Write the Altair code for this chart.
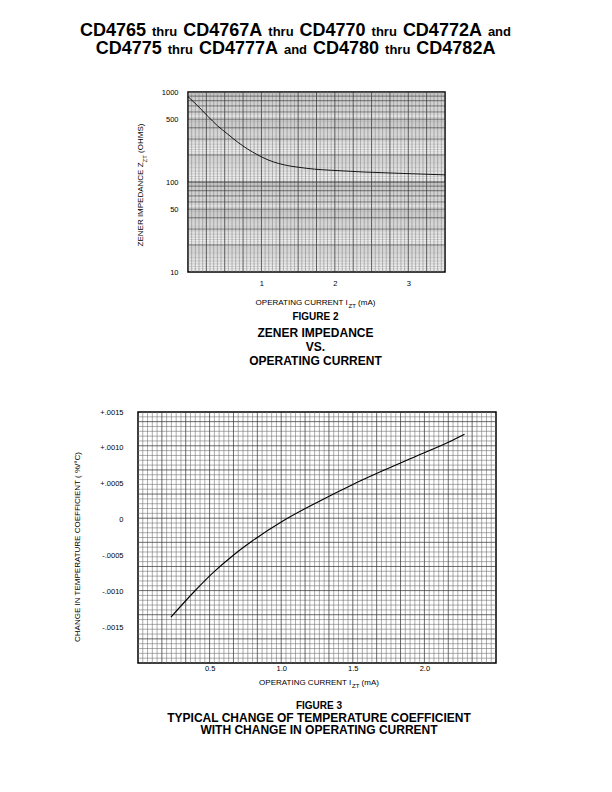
import altair as alt
import pandas as pd

FONT = "Liberation Sans"

# ---------------- data ----------------
fig2_current_ma = [0.0, 0.13, 0.27, 0.40, 0.54, 0.68, 0.81, 0.95, 1.09, 1.23, 1.36, 1.50, 1.72, 1.95, 2.41, 2.86, 3.50]
fig2_impedance_ohm = [890, 705, 537, 423, 341, 276, 233, 200, 176, 161, 152, 146, 139, 135, 129, 125, 120]
fig2_x_ticks = [1, 2, 3]
fig2_y_ticks = [10, 50, 100, 500, 1000]

fig3_current_ma = [0.23, 0.39, 0.53, 0.67, 0.79, 1.02, 1.26, 1.49, 1.72, 1.95, 2.19, 2.28]
fig3_tc_change = [-0.00136, -0.00101, -0.00073, -0.00049, -0.00031, -0.00001, 0.00025, 0.00048,
                  0.00069, 0.00089, 0.00110, 0.00119]
fig3_x_ticks = [0.5, 1.0, 1.5, 2.0]
fig3_y_ticks = [-0.0015, -0.0010, -0.0005, 0.0, 0.0005, 0.0010, 0.0015]

header_line1 = ["CD4765", "thru", "CD4767A", "thru", "CD4770", "thru", "CD4772A", "and"]
header_line2 = ["CD4775", "thru", "CD4777A", "and", "CD4780", "thru", "CD4782A"]
fig2_y_title = ["ZENER IMPEDANCE Z", "ZT", "(OHMS)"]
x_title_parts = ["OPERATING CURRENT I", "ZT", "(mA)"]
fig2_caption = ["FIGURE 2", "ZENER IMPEDANCE", "VS.", "OPERATING CURRENT"]
fig3_caption = ["FIGURE 3", "TYPICAL CHANGE OF TEMPERATURE COEFFICIENT", "WITH CHANGE IN OPERATING CURRENT"]
fig3_y_title = "CHANGE IN TEMPERATURE COEFFICIENT ( %/\u00b0C)"

# ---------------- font metrics (Helvetica/Arial) ----------------
REG_W = {' ': 278, '(': 333, ')': 333, '%': 889, '/': 278, '\u00b0': 400, '.': 278, '+': 584, '-': 333}
BOLD_W = {' ': 278, '(': 333, ')': 333, '.': 278}
for c in "0123456789":
    REG_W[c] = 556
    BOLD_W[c] = 556
REG_W.update(dict(A=667, B=667, C=722, D=722, E=667, F=611, G=778, H=722, I=278, J=500, K=667, L=556,
                  M=833, N=722, O=778, P=667, Q=778, R=722, S=667, T=611, U=722, V=667, W=944, X=667,
                  Y=667, Z=611, a=556, m=833, n=556, d=556, h=556, r=333, t=278, u=556))
BOLD_W.update(dict(A=722, B=722, C=722, D=722, E=667, F=611, G=778, H=722, I=278, L=611, M=833, N=722,
                   O=778, P=667, R=722, S=667, T=611, U=722, V=667, W=944, Y=667, Z=611,
                   a=556, d=611, h=611, n=611, r=389, t=333, u=611))


def tw(s, size, bold=False):
    t = BOLD_W if bold else REG_W
    return sum(t.get(c, 600) for c in s) * size / 1000.0


one = pd.DataFrame({"k": [0]})
NOVIEW = alt.ViewBackground(stroke="transparent")


def txt(s, x, y, size, bold=False, align="left", baseline="middle", angle=0):
    kw = dict(align=align, baseline=baseline, fontSize=size, font=FONT, color="black")
    if bold:
        kw["fontWeight"] = "bold"
    if angle:
        kw["angle"] = angle
    return alt.Chart(one).mark_text(**kw).encode(
        x=alt.value(x), y=alt.value(y), text=alt.value(s))


def header_row(words, cx, y):
    sizes = [18 if w.startswith("CD") else 13 for w in words]
    widths = [tw(w, s, True) for w, s in zip(words, sizes)]
    gap = 6
    total = sum(widths) + gap * (len(words) - 1)
    x = cx - total / 2.0
    out = []
    for w, s, wd in zip(words, sizes, widths):
        out.append(txt(w, x, y, s, bold=True, baseline="alphabetic"))
        x += wd + gap
    return out


def x_title(cx, y):
    main, sub, rest = x_title_parts
    sp = tw(" ", 8)
    w1, w2, w3 = tw(main, 8), tw(sub, 6), tw(rest, 8)
    x0 = cx - (w1 + w2 + sp + w3) / 2.0
    return [txt(main, x0, y, 8), txt(sub, x0 + w1, y + 2.5, 6), txt(rest, x0 + w1 + w2 + sp, y, 8)]


def y_title_sub(cx, cy):
    main, sub, rest = fig2_y_title
    sp = tw(" ", 8)
    w1, w2, w3 = tw(main, 8), tw(sub, 6), tw(rest, 8)
    y0 = cy + (w1 + w2 + sp + w3) / 2.0
    return [txt(main, cx, y0, 8, angle=270),
            txt(sub, cx + 3.5, y0 - w1, 6, angle=270),
            txt(rest, cx, y0 - w1 - w2 - sp, 8, angle=270)]


def rules(vals, ch, scale, axis, color, width):
    df = pd.DataFrame({"v": vals})
    if ch == "x":
        enc = dict(x=alt.X("v:Q", scale=scale, axis=axis))
    else:
        enc = dict(y=alt.Y("v:Q", scale=scale, axis=axis))
    return alt.Chart(df).mark_rule(color=color, strokeWidth=width).encode(**enc)


# ---------------- header ----------------
HEADER_CX = 157.5
header = alt.layer(*(header_row(header_line1, HEADER_CX, 17) + header_row(header_line2, HEADER_CX, 35))).properties(
    width=358, height=40, view=NOVIEW)

# ---------------- figure 2 ----------------
W2, H2 = 257, 180
xs2 = alt.Scale(domain=[0, 3.5], nice=False, zero=False)
ys2 = alt.Scale(type="log", domain=[10, 1000], nice=False)
xa2 = alt.Axis(values=fig2_x_ticks, format="d", title=None, labelPadding=7)
ya2 = alt.Axis(values=fig2_y_ticks, format="d", title=None, labelPadding=10)

v_fine2 = [round(i * 0.05, 4) for i in range(1, 70) if i % 5 != 0]
v_med2 = [round(i * 0.25, 4) for i in range(1, 14)]
ks = ([1 + 0.05 * i for i in range(1, 20)] + [2 + 0.1 * i for i in range(1, 30)] +
      [5 + 0.2 * i for i in range(1, 25)])
ks = [round(k, 3) for k in ks if abs(k - round(k)) > 1e-6]
h_fine2 = [d * k for d in (10, 100) for k in ks]
h_med2 = [d * k for d in (10, 100) for k in range(2, 10)]

line2 = alt.Chart(pd.DataFrame({"current": fig2_current_ma, "z": fig2_impedance_ohm})).mark_line(
    color="black", strokeWidth=0.9, interpolate="monotone").encode(
    x=alt.X("current:Q", scale=xs2, axis=xa2),
    y=alt.Y("z:Q", scale=ys2, axis=ya2),
)

cx2 = W2 / 2.0 - 1
fig2_layers = [
    rules(v_fine2, "x", xs2, xa2, "#7a7a7a", 0.5),
    rules(h_fine2, "y", ys2, ya2, "#7e7e7e", 0.4),
    rules(h_med2, "y", ys2, ya2, "#3c3c3c", 0.8),
    rules([100], "y", ys2, ya2, "#222222", 1.0),
    rules(v_med2, "x", xs2, xa2, "#3c3c3c", 0.8),
    line2,
] + x_title(cx2, 211) + [
    txt(fig2_caption[0], cx2, 225, 10, bold=True, align="center"),
    txt(fig2_caption[1], cx2, 241, 12, bold=True, align="center"),
    txt(fig2_caption[2], cx2, 255, 12, bold=True, align="center"),
    txt(fig2_caption[3], cx2, 269, 12, bold=True, align="center"),
]
fig2 = alt.layer(*fig2_layers).properties(
    width=W2, height=H2, view=alt.ViewBackground(stroke="black", strokeWidth=1.5))

# y-axis title of figure 2 (with subscript) lives in a narrow panel at its left
fig2_ytitle = alt.layer(*y_title_sub(3, 93)).properties(width=10, height=H2, view=NOVIEW)
fig2_row = alt.hconcat(fig2_ytitle, fig2, spacing=11)

# ---------------- figure 3 ----------------
W3, H3 = 358, 251
xs3 = alt.Scale(domain=[0, 2.5], nice=False, zero=False)
ys3 = alt.Scale(domain=[-0.002, 0.0015], nice=False, zero=False)
label3 = ("datum.value == 0 ? '0' : (datum.value > 0 ? '+' : '-') + '.' + "
          "format(round(abs(datum.value) * 10000), '04d')")
xa3 = alt.Axis(values=fig3_x_ticks, format=".1f", title=None, labelPadding=1)
ya3 = alt.Axis(values=fig3_y_ticks, labelExpr=label3, title=None, labelPadding=15)

v3_all = [i / 30.0 for i in range(1, 75)]
v_fine3 = [v for i, v in enumerate(v3_all, start=1) if i % 5 != 0]
v_med3 = [v for i, v in enumerate(v3_all, start=1) if i % 5 == 0]
ystep = 0.0035 / 52
h3_all = [-0.002 + j * ystep for j in range(1, 52)]
h_fine3 = [v for j, v in enumerate(h3_all, start=1) if j % 5 != 0]
h_med3 = [v for j, v in enumerate(h3_all, start=1) if j % 5 == 0]

line3 = alt.Chart(pd.DataFrame({"current": fig3_current_ma, "tc": fig3_tc_change})).mark_line(
    color="black", strokeWidth=1.1, interpolate="monotone").encode(
    x=alt.X("current:Q", scale=xs3, axis=xa3),
    y=alt.Y("tc:Q", scale=ys3, axis=ya3),
)

cx3 = W3 / 2.0 + 2
fig3_layers = [
    rules(v_fine3, "x", xs3, xa3, "#686868", 0.55),
    rules(h_fine3, "y", ys3, ya3, "#686868", 0.55),
    rules(v_med3, "x", xs3, xa3, "#3a3a3a", 0.75),
    rules(h_med3, "y", ys3, ya3, "#3a3a3a", 0.75),
    line3,
    txt(fig3_y_title, -60, 135, 8, align="center", angle=270),
] + x_title(cx3, 271) + [
    txt(fig3_caption[0], cx3, 294, 10, bold=True, align="center"),
    txt(fig3_caption[1], cx3, 305.5, 12, bold=True, align="center"),
    txt(fig3_caption[2], cx3, 318, 12, bold=True, align="center"),
]
fig3 = alt.layer(*fig3_layers).properties(
    width=W3, height=H3, view=alt.ViewBackground(stroke="black", strokeWidth=1.5))

inner = alt.vconcat(fig2_row, fig3, spacing=39)
chart = alt.vconcat(header, inner, spacing=27).properties(
    padding={"left": 65, "top": 10, "right": 5, "bottom": 5}
).configure(font=FONT).configure_axis(
    domain=False, ticks=False, grid=False, labelFont=FONT, labelFontSize=7.5, labelColor="black"
)

chart.save("out.html", embed_options={"renderer": "svg", "actions": False})
